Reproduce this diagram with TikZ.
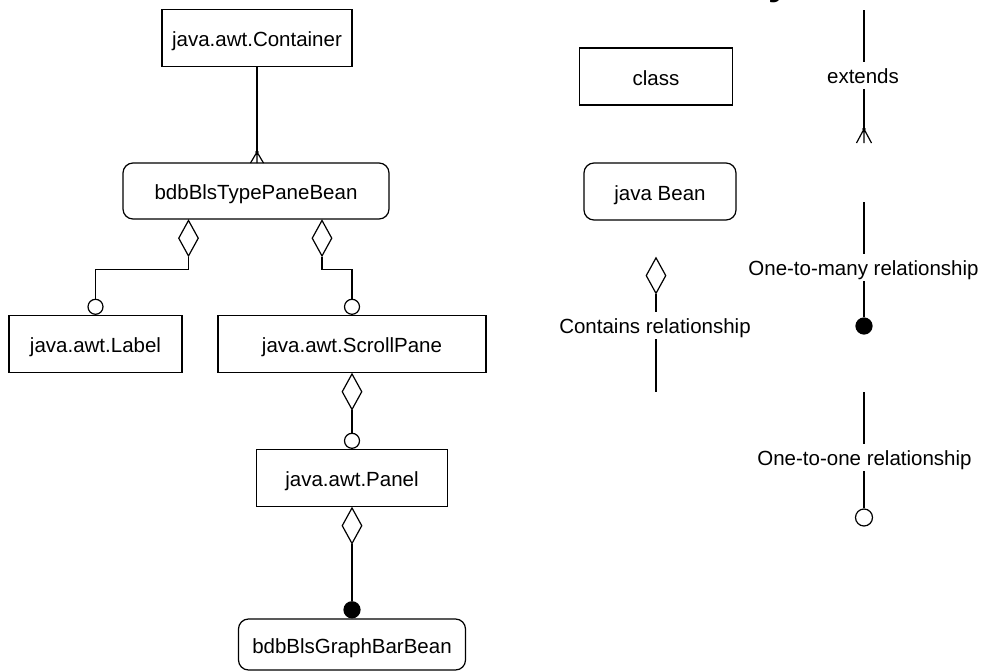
\documentclass[tikz,border=0pt]{standalone}
\usepackage{fontspec}
\setmainfont{Liberation Sans}
\usetikzlibrary{shapes.geometric}
\begin{document}
\begin{tikzpicture}[x=1pt,y=-1pt,line width=1.2pt,
  txt/.style={font=\fontsize{20.5}{24}\selectfont},
  cls/.style={draw,rectangle,txt,inner sep=0pt,text height=17pt,text depth=0pt,minimum height=57pt,fill=white},
  bean/.style={cls,rounded corners=10pt},
  agg/.style={draw,diamond,inner sep=0pt,minimum width=20pt,minimum height=36pt,fill=white},
  one/.style={draw,circle,inner sep=0pt,minimum size=15pt,fill=white},
  many/.style={draw,circle,inner sep=0pt,minimum size=16pt,fill=black},
  lbl/.style={txt,inner xsep=2pt,inner ysep=5.5pt,text height=15pt,text depth=0pt,anchor=base}]
\useasboundingbox (0,0) rectangle (989,672);
% cut-off title fragment
\begin{scope}
\clip (0,0) rectangle (989,672);
\node[font=\bfseries\fontsize{40}{44}\selectfont,anchor=base west,inner sep=0pt] (ttl) at (717,-5.5) {Key};
\end{scope}
% main diagram boxes
\node[cls,minimum width=190pt] (cont) at (257,38) {java.awt.Container};
\node[bean,minimum width=266pt,minimum height=56pt] (tp) at (256,191) {bdbBlsTypePaneBean};
\node[cls,minimum width=173pt] (lab) at (95.5,344) {java.awt.Label};
\node[cls,minimum width=268pt] (sp) at (352,344) {java.awt.ScrollPane};
\node[cls,minimum width=191pt] (pan) at (352,478) {java.awt.Panel};
\node[bean,minimum width=227pt,minimum height=51pt] (gb) at (352,644.5) {bdbBlsGraphBarBean};
% extends: Container -> TypePaneBean
\coordinate (ap) at (257,152);
\draw (cont.south -| ap) -- (ap);
\draw (ap) -- ++(-6.5,11) (ap) -- ++(0,11) (ap) -- ++(6.5,11);
\fill (ap) circle (1.8pt);
% contains relationships
\coordinate (x1) at (188.5,0);
\coordinate (x2) at (322,0);
\node[agg,anchor=north] (d1) at (tp.south -| x1) {};
\node[agg,anchor=north] (d2) at (tp.south -| x2) {};
\node[one,anchor=south] (c1) at (lab.north) {};
\node[one,anchor=south] (c2) at (sp.north) {};
\draw (d1.south) -- ++(0,13) -| (c1.north);
\draw (d2.south) -- ++(0,13) -| (c2.north);
\node[agg,anchor=north] (d3) at (sp.south) {};
\node[one,anchor=south] (c3) at (pan.north) {};
\draw (d3.south) -- (c3.north);
\node[agg,anchor=north] (d4) at (pan.south) {};
\node[many,anchor=south] (f1) at (gb.north) {};
\draw (d4.south) -- (f1.north);
% key
\node[cls,minimum width=153pt] (kc) at (656,76.5) {class};
\node[bean,minimum width=152pt] (kb) at (660,191.5) {java Bean};
\node[agg,anchor=north] (kd) at (656,257) {};
\node[lbl] (kdt) at (655,333) {Contains relationship};
\coordinate (kde) at (656,392);
\draw (kd.south) -- (kdt.north -| kd.south);
\draw (kdt.south -| kde) -- (kde);
% extends key
\coordinate (e0) at (864,10);
\node[lbl] (et) at (863,83) {extends};
\coordinate (ea) at (864,129);
\draw (e0) -- (et.north -| e0);
\draw (et.south -| e0) -- (ea);
\draw (ea) -- ++(-7.5,14) (ea) -- ++(0,14) (ea) -- ++(7.5,14);
\fill (ea) circle (1.8pt);
% one-to-many key
\coordinate (m0) at (864,202);
\node[lbl] (mt) at (863.5,275) {One-to-many relationship};
\node[many] (mf) at (864,326) {};
\draw (m0) -- (mt.north -| m0);
\draw (mt.south -| m0) -- (mf.north);
% one-to-one key
\coordinate (o0) at (864,392);
\node[lbl] (ot) at (864.5,465) {One-to-one relationship};
\node[one,minimum size=17pt] (oc) at (864,517.5) {};
\draw (o0) -- (ot.north -| o0);
\draw (ot.south -| o0) -- (oc.north);
\end{tikzpicture}
\end{document}
